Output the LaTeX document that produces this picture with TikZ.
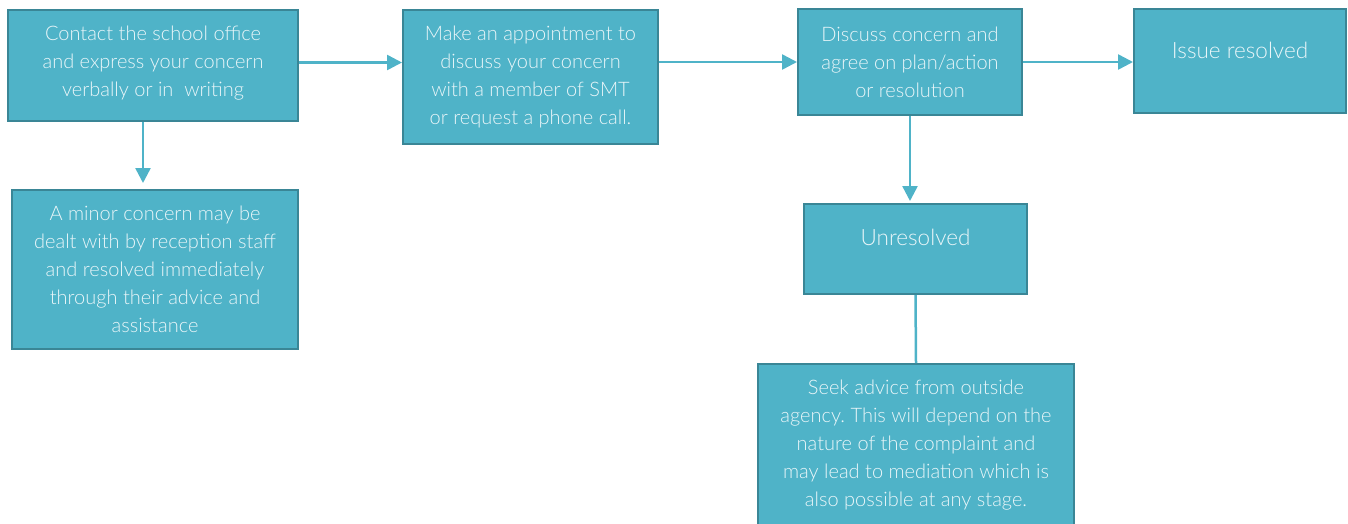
\documentclass[tikz,border=0pt]{standalone}
\usepackage{fontspec}
\setmainfont{Lato}[UprightFont=* Light]
\usetikzlibrary{arrows.meta}
\definecolor{boxfill}{RGB}{79,179,200}
\definecolor{boxline}{RGB}{58,134,150}
\definecolor{boxtext}{RGB}{234,246,249}
\frenchspacing
\begin{document}
\begin{tikzpicture}[x=1pt,y=-1pt,
  stepbox/.style={draw=boxline, line width=2pt, fill=boxfill, text=boxtext,
    align=center, inner sep=0pt, font=\fontsize{20}{28}\selectfont},
  bigtext/.style={font=\fontsize{22.5}{28}\selectfont},
  flow/.style={draw=boxfill, line width=2.5pt, -{Triangle[length=15pt,width=15pt]}},
  plain/.style={draw=boxfill, line width=2.5pt}]
\useasboundingbox (0,0) rectangle (1348,523);
\node[stepbox, minimum width=290pt, minimum height=111pt, text depth=9pt] (A) at (153,65.5)
  {Contact the school office\\and express your concern\\verbally or in\ \ writing};
\node[stepbox, minimum width=255pt, minimum height=134pt] (B) at (530.5,77)
  {Make an appointment to\\discuss your concern\\with a member of SMT\\or request a phone call.};
\node[stepbox, minimum width=224pt, minimum height=106pt] (C) at (910,62)
  {Discuss concern and\\agree on plan/action\\or resolution};
\node[stepbox, bigtext, minimum width=212pt, minimum height=104pt, text depth=22pt] (D) at (1240,61)
  {Issue resolved};
\node[stepbox, minimum width=286pt, minimum height=159pt] (E) at (155,269.5)
  {A minor concern may be\\dealt with by reception staff\\and resolved immediately\\through their advice and\\assistance};
\node[stepbox, bigtext, minimum width=223pt, minimum height=90pt, text depth=24pt] (F) at (915.5,249)
  {Unresolved};
\node[stepbox, minimum width=316pt, minimum height=163pt] (G) at (916,445.5)
  {Seek advice from outside\\agency. This will depend on the\\nature of the complaint and\\may lead to mediation which is\\also possible at any stage.};
\draw[flow] ([yshift=3pt]A.east) -- ([yshift=3pt]A.east -| B.west);
\draw[flow, shorten >=6pt] ([xshift=-10pt]A.south) -- ([xshift=-10pt]A.south |- E.north);
\draw[flow] (C.west -| B.east) -- (C.west);
\draw[flow] (C.east) -- (C.east -| D.west);
\draw[flow, shorten >=2pt] (C.south) -- (C.south |- F.north);
\draw[plain] (F.south) -- (G.north);
\end{tikzpicture}
\end{document}
